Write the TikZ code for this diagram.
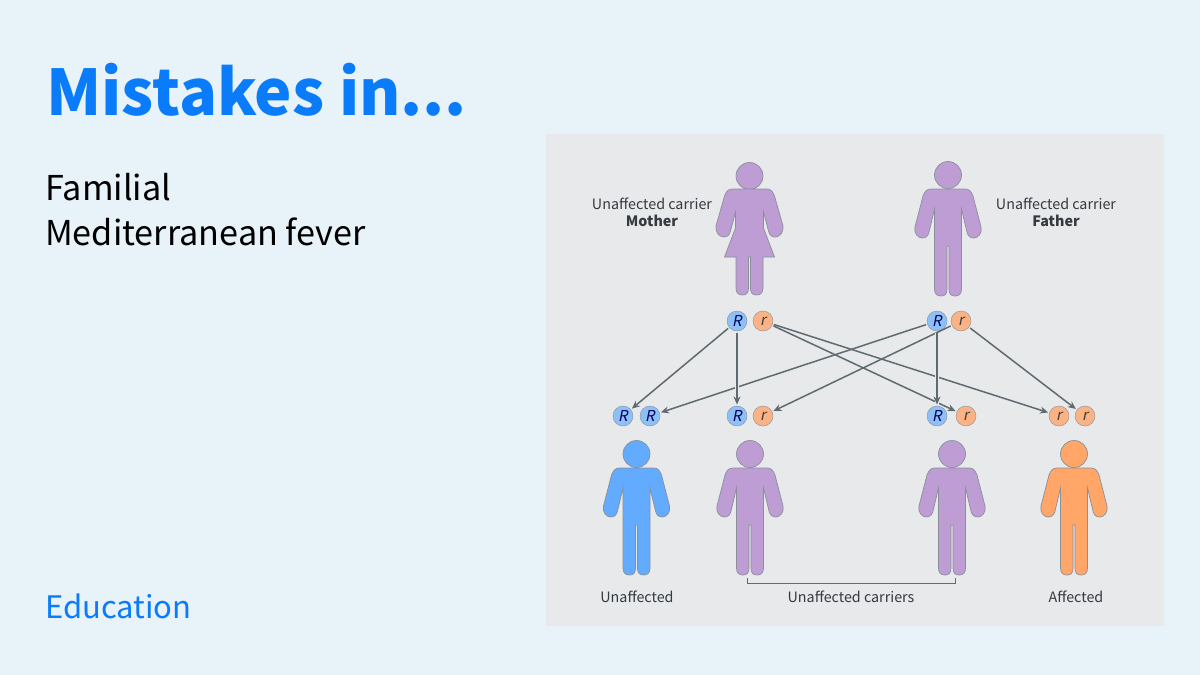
\documentclass[tikz,border=0pt]{standalone}
\usepackage{fontspec}
\setmainfont{Noto Sans CJK SC}
\newfontfamily\allelefont[FakeSlant=0.2]{Noto Sans CJK SC}
\usetikzlibrary{calc, positioning, arrows.meta}
\definecolor{slidebg}{HTML}{E7F2F9}
\definecolor{panelbg}{HTML}{E7E9EB}
\definecolor{titleblue}{HTML}{0A7CFA}
\definecolor{carrierfill}{HTML}{BE9DD4}
\definecolor{bluefill}{HTML}{62ABFF}
\definecolor{orangefill}{HTML}{FFA668}
\definecolor{alleleblue}{HTML}{8CC0F7}
\definecolor{alleleorange}{HTML}{FBB284}
\definecolor{edgegray}{HTML}{8A8F9A}
\definecolor{linkgray}{HTML}{5F6B70}
\definecolor{labelgray}{HTML}{343A40}
\tikzset{
  bigR/.style={circle, draw=edgegray, fill=alleleblue, minimum size=20pt, inner sep=0pt, outer sep=1.5pt, text=black!65!blue, font=\fontsize{15}{15}\selectfont\allelefont},
  smallr/.style={bigR, fill=alleleorange, text=black!75},
  link/.style={draw=linkgray, line width=1.5pt, -{Stealth[length=8pt,width=7pt]}},
  gaplink/.style={draw=panelbg, line width=4pt},
  label/.style={text=labelgray, font=\fontsize{14.3}{17.5}\selectfont, align=center, inner sep=0pt},
  slidetext/.style={anchor=base west, inner sep=0pt},
  man/.pic={
    \path[pic actions] (0,0) circle (13.5);
    \path[pic actions] (-17,14) .. controls (-21,14) and (-23,16) .. (-25,21) -- (-33,52)
      .. controls (-34.5,58) and (-30,63) .. (-26,63) .. controls (-22,63) and (-20,61) .. (-19,57)
      -- (-13.5,34) -- (-13.5,114) .. controls (-13.5,119) and (-11,121) .. (-7,121)
      .. controls (-3,121) and (-1,119) .. (-1,114) -- (-1,71) -- (1,71) -- (1,114)
      .. controls (1,119) and (3,121) .. (7,121) .. controls (11,121) and (13.5,119) .. (13.5,114)
      -- (13.5,34) -- (19,57) .. controls (20,61) and (22,63) .. (26,63)
      .. controls (30,63) and (34.5,58) .. (33,52) -- (25,21)
      .. controls (23,16) and (21,14) .. (17,14) -- cycle;
  },
  woman/.pic={
    \path[pic actions] (0,0) circle (13.5);
    \path[pic actions] (-17,13) .. controls (-21,13) and (-23,15) .. (-25,20) -- (-33.5,50)
      .. controls (-34.5,56) and (-30,61) .. (-26,61) .. controls (-22,61) and (-20,59) .. (-19,55)
      -- (-14,36) -- (-14,52) -- (-25,81) -- (-13.5,81) -- (-13.5,112) .. controls (-13.5,117) and (-11,119) .. (-7,119)
      .. controls (-3,119) and (-1,117) .. (-1,112) -- (-1,81) -- (1,81) -- (1,112)
      .. controls (1,117) and (3,119) .. (7,119) .. controls (11,119) and (13.5,117) .. (13.5,112)
      -- (13.5,81) -- (25,81) -- (14,52) -- (14,36) -- (19,55) .. controls (20,59) and (22,61) .. (26,61)
      .. controls (30,61) and (34.5,56) .. (33.5,50) -- (25,20)
      .. controls (23,15) and (21,13) .. (17,13) -- cycle;
  },
  person/.style={draw=edgegray, line width=0.7pt, fill=#1},
}
\begin{document}
\begin{tikzpicture}[x=1pt, y=-1pt]
\useasboundingbox (0,0) rectangle (1200,675);
\fill[slidebg] (0,0) rectangle (1200,675);
\fill[panelbg] (546,134) rectangle (1164,626);

% Slide text
\node[slidetext, text=titleblue, font=\fontsize{63}{63}\selectfont\bfseries] (title) at (46,115) {Mistakes in...};
\node[slidetext, font=\fontsize{34.2}{34.2}\selectfont] (topic1) at (45,200) {Familial};
\node[slidetext, font=\fontsize{34.2}{34.2}\selectfont] (topic2) at (45,245) {Mediterranean fever};
\node[slidetext, text=titleblue, font=\fontsize{31}{31}\selectfont] (section) at (45,618) {Education};

% Parents
\pic[person=carrierfill] at (749.5,176) {woman};
\pic[person=carrierfill] at (948,175) {man};
\node[label] (motherlabel) at (652,212.5) {Unaffected carrier\\\textbf{Mother}};
\node[label] (fatherlabel) at (1056,212.5) {Unaffected carrier\\\textbf{Father}};

% Children
\pic[person=bluefill] at (636.5,454) {man};
\pic[person=carrierfill] at (750,454) {man};
\pic[person=carrierfill] at (952,454) {man};
\pic[person=orangefill] at (1074,454) {man};
\node[label] (unaffected) at (637,596.5) {Unaffected};
\node[label] (carriers) at (851,596.5) {Unaffected carriers};
\node[label] (affected) at (1076,596.5) {Affected};

% Alleles
\node[bigR] (mR) at (737,321) {R};
\node[smallr] (mr) at (763,321) {r};
\node[bigR] (fR) at (937,321) {R};
\node[smallr] (fr) at (961,321) {r};
\node[bigR] (aR1) at (623,416) {R};
\node[bigR] (aR2) at (650,416) {R};
\node[bigR] (bR) at (737,416) {R};
\node[smallr] (br) at (763,416) {r};
\node[bigR] (cR) at (937,416) {R};
\node[smallr] (cr) at (966,416) {r};
\node[smallr] (dr1) at (1059,416) {r};
\node[smallr] (dr2) at (1085,416) {r};

% Inheritance arrows
\draw[link] (mR) -- (aR1);
\draw[link] (mr) -- (cr);
\draw[link] (mr) -- (dr1);
\draw[link] (fR) -- (aR2);
\draw[link] (fr) -- (br);
\draw[link] (fr) -- (dr2);
\draw[gaplink] (mR) -- (bR);
\draw[gaplink] (fR) -- (cR);
\draw[link] (mR) -- (bR);
\draw[link] (fR) -- (cR);

% Bracket under the carriers
\coordinate (bracketL) at (747,578);
\coordinate (bracketR) at (955,578);
\draw[linkgray, line width=1pt] (bracketL) -- ++(0,5) -| (bracketR);
\end{tikzpicture}
\end{document}
